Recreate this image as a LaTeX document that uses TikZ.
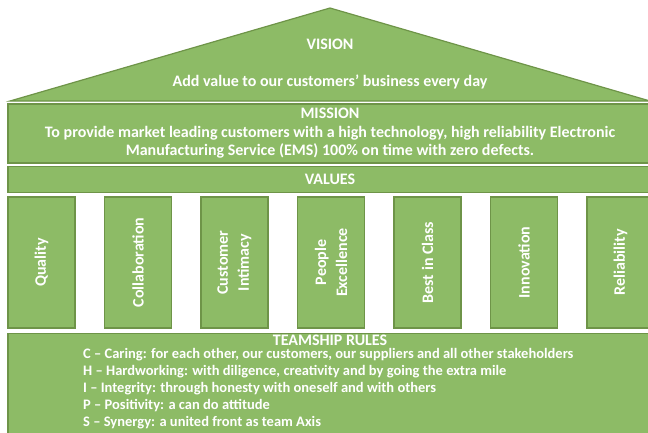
\documentclass[tikz,border=0pt]{standalone}
\usepackage{fontspec}
\setmainfont{Carlito}
\usetikzlibrary{positioning}
\definecolor{housegreen}{RGB}{141,187,102}
\definecolor{houseedge}{RGB}{110,148,72}
\tikzset{
  block/.style={draw=houseedge, line width=1.2pt, fill=housegreen, text=white, font=\bfseries\fontsize{16}{18.5}\selectfont},
  pillar/.style={block, rotate=90, minimum width=131pt, minimum height=67pt, inner sep=0pt, align=center,
    font=\bfseries\fontsize{16}{21}\selectfont},
  label/.style={text=white, inner sep=0pt, font=\bfseries\fontsize{16}{18.5}\selectfont},
  rules/.style={text=white, font=\bfseries\fontsize{14.5}{17}\selectfont, align=left, inner sep=0pt}
}

\begin{document}
\begin{tikzpicture}[x=1pt,y=-1pt]
\useasboundingbox (0,0) rectangle (648,432);
\clip (0,0) rectangle (648,432);
% roof
\filldraw[block] (10,101) -- (330,8) -- (650,101) -- cycle;
\node[label] (vision) at (330,44) {VISION};
\node[label] (visiontext) at (330,82) {Add value to our customers’ business every day};
% mission and values
\node[block, minimum width=644pt, minimum height=59pt, align=center, inner sep=0pt] (mission) at (330,133.5)
  {MISSION\\To provide market leading customers with a high technology, high reliability Electronic\\Manufacturing Service (EMS) 100\% on time with zero defects.};
\node[block, minimum width=644pt, minimum height=26pt, inner sep=0pt] (values) at (330,179.5) {VALUES};
% pillars
\foreach \name/\txt [count=\i from 0] in {quality/Quality, collab/Collaboration, intimacy/Customer\\Intimacy,
    people/People\\Excellence, best/Best in Class, innovation/Innovation, reliability/Reliability}
  \node[pillar] (\name) at (41.5+96.5*\i,262.5) {\txt};
% teamship rules
\node[block, minimum width=644pt, minimum height=110pt, anchor=north] (teamship) at (330,333) {};
\node[label, anchor=base] (teamtitle) at (330,345) {TEAMSHIP RULES};
\node[rules, anchor=north west] (rulelist) at (83,348.5) {C – Caring: for each other, our customers, our suppliers and all other stakeholders\\
H – Hardworking: with diligence, creativity and by going the extra mile\\
I – Integrity: through honesty with oneself and with others\\
P – Positivity: a can do attitude\\
S – Synergy: a united front as team Axis};
\end{tikzpicture}
\end{document}
